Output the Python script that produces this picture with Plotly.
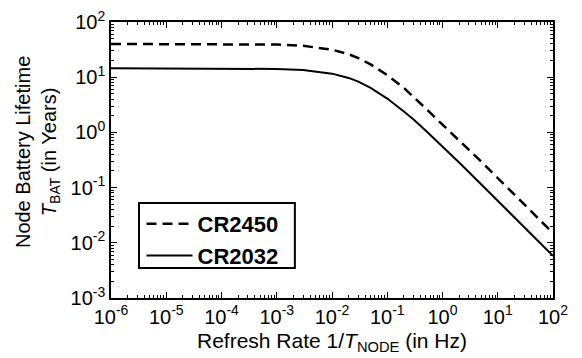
import plotly.graph_objects as go

# Refresh rate 1/T_NODE (Hz)
rate_hz = [1e-6, 1e-5, 1e-4, 1e-3, 3e-3, 1e-2, 2e-2, 3e-2, 5e-2, 0.1, 0.2, 0.3, 0.5, 1, 2, 5, 10, 20, 50, 100]
# Battery lifetime (years)
cr2450_years = [40, 40, 39.9, 39.0, 37.0, 31.6, 26.1, 22.2, 17.1, 10.9, 6.4, 4.4, 2.7, 1.38, 0.72, 0.298, 0.149, 0.075, 0.030, 0.015]
cr2032_years = [14.5, 14.5, 14.5, 14.1, 13.5, 11.6, 9.7, 8.3, 6.4, 4.1, 2.4, 1.71, 1.07, 0.56, 0.284, 0.115, 0.0576, 0.029, 0.0116, 0.0058]

x_tickvals = [1e-6, 1e-5, 1e-4, 1e-3, 1e-2, 1e-1, 1, 10, 100]
x_ticktext = ["10<sup>-6</sup>", "10<sup>-5</sup>", "10<sup>-4</sup>", "10<sup>-3</sup>", "10<sup>-2</sup>",
              "10<sup>-1</sup>", "10<sup>0</sup>", "10<sup>1</sup>", "10<sup>2</sup>"]
y_tickvals = [1e-3, 1e-2, 1e-1, 1, 10, 100]
y_ticktext = ["10<sup>-3</sup>", "10<sup>-2</sup>", "10<sup>-1</sup>", "10<sup>0</sup>", "10<sup>1</sup>", "10<sup>2</sup>"]

x_title = "Refresh Rate 1/<i>T</i><sub>NODE</sub> (in Hz)"
y_title = "Node Battery Lifetime<br><i>T</i><sub>BAT</sub> (in Years)"

FONT = "Liberation Sans, Arial, sans-serif"

fig = go.Figure()
fig.add_trace(go.Scatter(x=rate_hz, y=cr2450_years, mode="lines", name="<b>CR2450</b>",
                         line=dict(color="black", width=2.5, dash="10px,6px")))
fig.add_trace(go.Scatter(x=rate_hz, y=cr2032_years, mode="lines", name="<b>CR2032</b>",
                         line=dict(color="black", width=2)))

axis_common = dict(
    type="log", showgrid=False, zeroline=False, automargin=False,
    showline=True, linecolor="black", linewidth=1.5, mirror="allticks",
    ticks="inside", ticklen=6, tickwidth=1, tickcolor="black",
    minor=dict(ticks="inside", ticklen=3, tickcolor="black", tickwidth=1, dtick="D1", showgrid=False),
    tickfont=dict(family=FONT, size=20, color="black"),
)

fig.update_layout(
    width=582, height=358,
    margin=dict(l=111, r=29, t=22, b=60),
    paper_bgcolor="white", plot_bgcolor="white",
    font=dict(family=FONT, color="black"),
    xaxis=dict(axis_common, range=[-6, 2], tickvals=x_tickvals, ticktext=x_ticktext),
    yaxis=dict(axis_common, range=[-3, 2], tickvals=y_tickvals, ticktext=y_ticktext),
    legend=dict(x=0.069, y=0.344, xanchor="left", yanchor="top",
                borderwidth=0, bgcolor="rgba(0,0,0,0)",
                font=dict(family=FONT, size=22, color="black"),
                itemwidth=46, tracegroupgap=0),
    showlegend=True,
    shapes=[
        dict(type="rect", xref="paper", yref="paper", x0=0.0633, x1=0.416, y0=0.109, y1=0.344,
             line=dict(color="black", width=2), fillcolor="white", layer="above"),
    ],
    annotations=[
        dict(text=x_title, xref="paper", yref="paper", x=0.5, y=-0.159,
             xanchor="center", yanchor="middle", showarrow=False,
             font=dict(family=FONT, size=21, color="black")),
        dict(text=y_title, xref="paper", yref="paper", x=-0.165, y=0.529,
             xanchor="center", yanchor="middle", showarrow=False, textangle=-90,
             font=dict(family=FONT, size=20, color="black")),
    ],
)

fig.write_html("out.html", config={"displayModeBar": False},
               post_script="document.body.style.margin='0';document.body.style.overflow='hidden';")
